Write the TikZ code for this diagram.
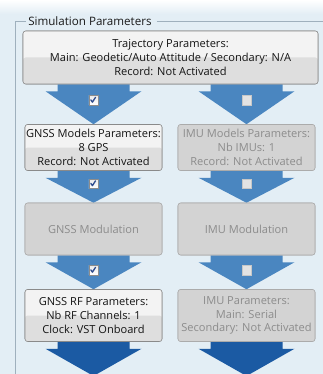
\documentclass[tikz,border=0pt]{standalone}
\usepackage{fontspec}
\setmainfont{Open Sans}
\usetikzlibrary{calc}

\definecolor{bgblue}{HTML}{E3EEF5}
\definecolor{framegray}{HTML}{9FB0BD}
\definecolor{flowblue}{HTML}{4A86C0}
\definecolor{flowdark}{HTML}{1B5AA3}
\definecolor{boxline}{HTML}{8A8A8A}
\definecolor{offline}{HTML}{ABABAB}
\definecolor{offtext}{HTML}{8C8C8C}
\definecolor{ontop}{HTML}{F3F3F3}
\definecolor{onbottom}{HTML}{DEDEDE}
\definecolor{offfill}{HTML}{D3D3D3}
\definecolor{checkblue}{HTML}{2E4C8E}

\tikzset{
  px/.style={x=0.75pt,y=-0.75pt},
  uitext/.style={font=\fontsize{8.3}{10.4}\selectfont, align=center},
  onbox/.style={uitext, draw=boxline, rounded corners=2pt, fill=ontop, text=black!92, inner sep=0pt,
    path picture={\fill[onbottom] (path picture bounding box.west) rectangle (path picture bounding box.south east);}},
  offbox/.style={uitext, draw=offline, rounded corners=2pt, fill=offfill, text=offtext, inner sep=0pt},
  flow/.style={fill=flowblue},
  flowend/.style={fill=flowdark},
  chkon/.style={draw=black!45, top color=black!8, bottom color=white, minimum size=7pt, inner sep=0pt,
    path picture={\draw[checkblue, line width=1pt, line cap=round, line join=round]
      ([xshift=-2pt,yshift=0.3pt]path picture bounding box.center) -- ++(1.2pt,-1.7pt) -- ++(2.3pt,3.6pt);}},
  chkoff/.style={draw=black!22, fill=black!11, minimum size=7pt, inner sep=0pt},
  grouptitle/.style={font=\fontsize{8.7}{10}\selectfont, text=black!90, inner sep=0pt}
}

% A block arrow hanging below one box and pointing at the next one
\newcommand{\flowarrow}[3]{%
  \fill[#1] ($(#2)+(-36,0)$) -- ($(#2)+(-36,7)$) -- ($(#2)+(-48,7)$) -- (#3)
    -- ($(#2)+(48,7)$) -- ($(#2)+(36,7)$) -- ($(#2)+(36,0)$) -- cycle;}

\begin{document}
\begin{tikzpicture}[px]
  \useasboundingbox (0,0) rectangle (323,374);
  \fill[bgblue] (0,0) rectangle (323,374);
  \fill[top color=white, bottom color=bgblue] (0,0) rectangle (323,14);

  % group box frame and its title
  \node[grouptitle, anchor=west] (gtitle) at (28,21) {Simulation Parameters};
  \draw[framegray] (gtitle.east) ++(5,0) -- (323,21);
  \draw[framegray] (gtitle.west) ++(-2,0) -- (15,21) -- (15,374);

  % box positions (the boxes are drawn over the arrows further down)
  \path
    (170.5,57.5) node[onbox, minimum width=221.25pt, minimum height=39.75pt] (traj)
      {Trajectory Parameters:\\Main: Geodetic/Auto Attitude / Secondary: N/A\\Record: Not Activated}
    (93.5,147.5) node[onbox, minimum width=102.75pt, minimum height=34.5pt] (gm)
      {GNSS Models Parameters:\\8 GPS\\Record: Not Activated}
    (246.5,147.5) node[offbox, minimum width=102.75pt, minimum height=34.5pt] (im)
      {IMU Models Parameters:\\Nb IMUs: 1\\Record: Not Activated}
    (93.5,229) node[offbox, minimum width=102.75pt, minimum height=39pt] (gmod)
      {GNSS Modulation}
    (246.5,229) node[offbox, minimum width=102.75pt, minimum height=39pt] (imod)
      {IMU Modulation}
    (93.5,315.5) node[onbox, minimum width=102.75pt, minimum height=39pt] (grf)
      {GNSS RF Parameters:\\Nb RF Channels: 1\\Clock: VST Onboard}
    (246.5,315.5) node[offbox, minimum width=102.75pt, minimum height=39pt] (irf)
      {IMU Parameters:\\Main: Serial\\Secondary: Not Activated};

  \coordinate (gtop) at (traj.south -| gm.north);
  \coordinate (itop) at (traj.south -| im.north);
  \coordinate (gend) at (93.5,376);
  \coordinate (iend) at (246.5,376);

  % block arrows
  \flowarrow{flow}{gtop}{gm.north}
  \flowarrow{flow}{itop}{im.north}
  \flowarrow{flow}{gm.south}{gmod.north}
  \flowarrow{flow}{im.south}{imod.north}
  \flowarrow{flow}{gmod.south}{grf.north}
  \flowarrow{flow}{imod.south}{irf.north}
  \flowarrow{flowend}{grf.south}{gend}
  \flowarrow{flowend}{irf.south}{iend}

  % boxes drawn on top of the arrows
  \node[onbox, minimum width=221.25pt, minimum height=39.75pt] at (traj)
    {Trajectory Parameters:\\Main: Geodetic/Auto Attitude / Secondary: N/A\\Record: Not Activated};
  \node[onbox, minimum width=102.75pt, minimum height=34.5pt] at (gm)
    {GNSS Models Parameters:\\8 GPS\\Record: Not Activated};
  \node[offbox, minimum width=102.75pt, minimum height=34.5pt] at (im)
    {IMU Models Parameters:\\Nb IMUs: 1\\Record: Not Activated};
  \node[offbox, minimum width=102.75pt, minimum height=39pt] at (gmod) {GNSS Modulation};
  \node[offbox, minimum width=102.75pt, minimum height=39pt] at (imod) {IMU Modulation};
  \node[onbox, minimum width=102.75pt, minimum height=39pt] at (grf)
    {GNSS RF Parameters:\\Nb RF Channels: 1\\Clock: VST Onboard};
  \node[offbox, minimum width=102.75pt, minimum height=39pt] at (irf)
    {IMU Parameters:\\Main: Serial\\Secondary: Not Activated};

  % check boxes on the arrows
  \node[chkon]  (c1) at ($(gtop)+(0,16)$) {};
  \node[chkoff] (c2) at ($(itop)+(0,16)$) {};
  \node[chkon]  (c3) at ($(gm.south)+(0,13)$) {};
  \node[chkoff] (c4) at ($(im.south)+(0,13)$) {};
  \node[chkon]  (c5) at ($(gmod.south)+(0,15)$) {};
  \node[chkoff] (c6) at ($(imod.south)+(0,15)$) {};
\end{tikzpicture}
\end{document}
